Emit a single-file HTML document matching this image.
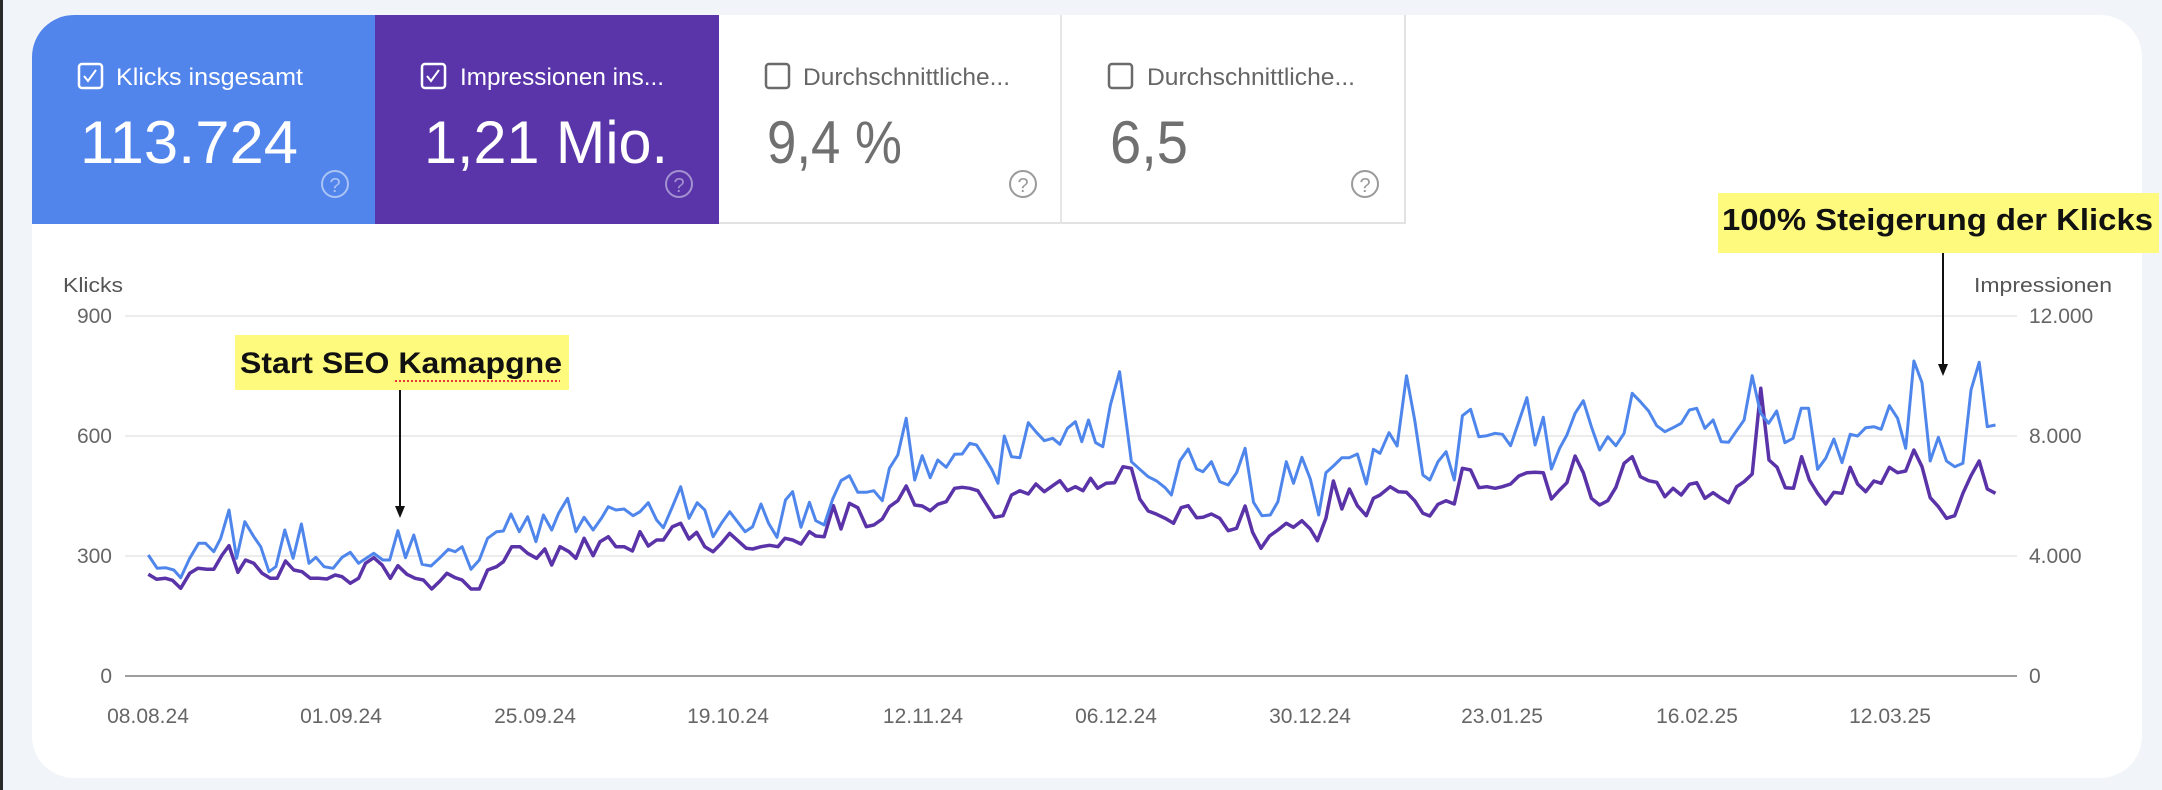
<!DOCTYPE html>
<html><head><meta charset="utf-8"><style>
html,body{margin:0;padding:0;background:#f1f4f9;}
svg{display:block;}
text{font-family:"Liberation Sans",sans-serif;}
</style></head><body>
<svg id="s" width="2162" height="790" viewBox="0 0 2162 790" xmlns="http://www.w3.org/2000/svg">
<rect x="0" y="0" width="2162" height="790" fill="#f1f4f9"/>
<rect x="0" y="0" width="3" height="790" fill="#2a2a2a"/>
<defs><clipPath id="card"><rect x="32" y="15" width="2110" height="763" rx="42"/></clipPath></defs>
<rect x="32" y="15" width="2110" height="763" rx="42" fill="#fff"/>
<g clip-path="url(#card)">
<rect x="32" y="15" width="343" height="209" fill="#5285ec"/>
<rect x="375" y="15" width="344" height="209" fill="#5935a9"/>
<rect x="719" y="15" width="342" height="209" fill="#fff"/>
<line x1="719" y1="223" x2="1405" y2="223" stroke="#e2e2e2" stroke-width="2"/>
<line x1="1061" y1="15" x2="1061" y2="224" stroke="#e6e6e6" stroke-width="2"/>
<line x1="1405" y1="15" x2="1405" y2="224" stroke="#e2e2e2" stroke-width="2"/>
</g>
<!-- tile 1 -->
<rect x="79" y="64" width="23" height="24" rx="3" fill="none" stroke="#fff" stroke-width="2.5"/>
<path d="M84 76 l4 5 l8 -11" fill="none" stroke="#fff" stroke-width="2"/>
<text x="116" y="85" font-size="24" fill="#fff" textLength="187" lengthAdjust="spacingAndGlyphs">Klicks insgesamt</text>
<text x="80" y="163" font-size="60" fill="#fff" textLength="218" lengthAdjust="spacingAndGlyphs">113.724</text>
<circle cx="335" cy="184" r="13" fill="none" stroke="#a9c3f5" stroke-width="2"/>
<text x="335" y="192" font-size="20" fill="#a9c3f5" text-anchor="middle">?</text>
<!-- tile 2 -->
<rect x="422" y="64" width="23" height="24" rx="3" fill="none" stroke="#fff" stroke-width="2.5"/>
<path d="M427 76 l4 5 l8 -11" fill="none" stroke="#fff" stroke-width="2"/>
<text x="460" y="85" font-size="24" fill="#fff" textLength="204" lengthAdjust="spacingAndGlyphs">Impressionen ins...</text>
<text x="424" y="163" font-size="60" fill="#fff" textLength="244" lengthAdjust="spacingAndGlyphs">1,21 Mio.</text>
<circle cx="679" cy="184" r="13" fill="none" stroke="#a491d0" stroke-width="2"/>
<text x="679" y="192" font-size="20" fill="#a491d0" text-anchor="middle">?</text>
<!-- tile 3 -->
<rect x="766" y="64" width="23" height="24" rx="3" fill="none" stroke="#6b6b6b" stroke-width="2.5"/>
<text x="803" y="85" font-size="24" fill="#666" textLength="207" lengthAdjust="spacingAndGlyphs">Durchschnittliche...</text>
<text x="767" y="163" font-size="60" fill="#707070" textLength="135" lengthAdjust="spacingAndGlyphs">9,4 %</text>
<circle cx="1023" cy="184" r="13" fill="none" stroke="#9a9a9a" stroke-width="2"/>
<text x="1023" y="192" font-size="20" fill="#9a9a9a" text-anchor="middle">?</text>
<!-- tile 4 -->
<rect x="1109" y="64" width="23" height="24" rx="3" fill="none" stroke="#6b6b6b" stroke-width="2.5"/>
<text x="1147" y="85" font-size="24" fill="#666" textLength="208" lengthAdjust="spacingAndGlyphs">Durchschnittliche...</text>
<text x="1110" y="163" font-size="60" fill="#707070" textLength="78" lengthAdjust="spacingAndGlyphs">6,5</text>
<circle cx="1365" cy="184" r="13" fill="none" stroke="#9a9a9a" stroke-width="2"/>
<text x="1365" y="192" font-size="20" fill="#9a9a9a" text-anchor="middle">?</text>

<!-- axes -->
<text x="63" y="292" font-size="20" fill="#555" textLength="60" lengthAdjust="spacingAndGlyphs">Klicks</text>
<text x="1974" y="292" font-size="20" fill="#555" textLength="138" lengthAdjust="spacingAndGlyphs">Impressionen</text>
<g stroke="#ececec" stroke-width="2">
<line x1="125" y1="316" x2="2017" y2="316"/>
<line x1="125" y1="436" x2="2017" y2="436"/>
<line x1="125" y1="556" x2="2017" y2="556"/>
</g>
<line x1="125" y1="676" x2="2017" y2="676" stroke="#9e9e9e" stroke-width="2"/>
<g font-size="21" fill="#666" text-anchor="end">
<text x="112" y="323">900</text><text x="112" y="443">600</text><text x="112" y="563">300</text><text x="112" y="683">0</text>
</g>
<g font-size="21" fill="#666">
<text x="2029" y="323">12.000</text><text x="2029" y="443">8.000</text><text x="2029" y="563">4.000</text><text x="2029" y="683">0</text>
</g>
<g font-size="21" fill="#666" text-anchor="middle">
<text x="148" y="723">08.08.24</text><text x="341" y="723">01.09.24</text><text x="535" y="723">25.09.24</text>
<text x="728" y="723">19.10.24</text><text x="923" y="723">12.11.24</text><text x="1116" y="723">06.12.24</text>
<text x="1310" y="723">30.12.24</text><text x="1502" y="723">23.01.25</text><text x="1697" y="723">16.02.25</text>
<text x="1890" y="723">12.03.25</text>
</g>
<polyline id="pur" fill="none" stroke="#5a33a8" stroke-width="3.5" stroke-linejoin="round"/>
<polyline id="blu" fill="none" stroke="#4f86ec" stroke-width="3" stroke-linejoin="round"/>

<!-- annotations -->
<rect x="235" y="335" width="334" height="55" fill="#fdfa7d"/>
<text x="240" y="373" font-size="30" font-weight="bold" fill="#111" textLength="322" lengthAdjust="spacingAndGlyphs">Start SEO Kamapgne</text>
<line x1="395" y1="381" x2="560" y2="381" stroke="#e53935" stroke-width="2" stroke-dasharray="2,2"/>
<line x1="400" y1="390" x2="400" y2="508" stroke="#111" stroke-width="2"/>
<path d="M395 506 L405 506 L400 518 Z" fill="#111"/>
<rect x="1718" y="193" width="441" height="60" fill="#fdfa7d"/>
<text x="1722" y="230" font-size="31" font-weight="bold" fill="#111" textLength="431" lengthAdjust="spacingAndGlyphs">100% Steigerung der Klicks</text>
<line x1="1943" y1="253" x2="1943" y2="365" stroke="#111" stroke-width="2"/>
<path d="M1938 364 L1948 364 L1943 376 Z" fill="#111"/>
</svg>
<script>
function seg(pts, ox, sx, oy){var r=[];for(var i=0;i<pts.length;i+=2){r.push([ox+pts[i]/sx, oy+pts[i+1]/3]);}return r;}
var b3=[215,480,228,520,240,518,252,525,262,548,275,490,288,445,298,445,310,470,320,430,332,345,343,490,355,380,368,425,378,455,390,530,400,515,413,405,425,490,437,387,448,505,458,487,470,515,483,520,496,487,508,472,520,505,542,475,555,495,565,495,577,407,588,488,600,420,612,508,625,513,637,490,650,463,660,470,670,455,683,523,695,495,707,430,720,410,730,408,741,357,753,410,765,365,777,440,788,360,800,405,810,355,823,310,835,410,847,367,860,405,872,370,882,335,893,345,905,342,918,362,928,350,940,323,952,375,962,398,975,335,987,275,999,370,1011,323,1022,345,1034,425,1046,385,1058,350];
var p3=[215,538,227,553,240,550,250,556,262,580,275,535,287,520,300,523,310,523,322,480,332,452,345,532,356,495,368,505,380,535,392,550,402,550,414,498,426,525,438,530,450,550,462,550,474,552,486,540,496,545,508,565,520,550,530,505,542,488,554,510,566,550,577,512,590,538,602,550,614,555,626,582,638,558,648,535,660,548,670,555,683,582,695,582,707,525,720,515,730,500,742,455,754,455,765,475,778,490,790,462,800,510,812,455,825,470,835,490,847,430,860,482,870,440,882,425,893,455,905,455,917,468,928,410,940,453,952,435,962,435,975,395,987,385,999,432,1010,412,1022,455,1034,470,1046,445,1058,415];
var b5=[12,605,30,590,50,522,68,580,88,622,108,510,125,485,145,592,165,517,180,572,200,585,220,508,240,452,260,437,280,487,300,487,318,482,338,512,355,415,375,375,395,265,415,450,433,377,452,443,470,390,490,412,510,373,528,372,546,340,562,345,580,380,598,418,613,460,628,318,645,380,665,383,685,278,705,308,723,332,743,325,760,343,778,295,797,275,812,335,828,270,845,338,862,350,880,225,902,125,930,395,950,418,970,440,990,453,1010,473,1025,495,1045,393,1065,357,1085,417,1100,425,1120,395,1140,455,1160,465,1180,428,1200,355,1220,517,1240,557,1260,555,1278,515,1298,395,1315,460,1335,382,1355,447,1375,555,1392,428,1410,408,1430,383,1448,383,1467,372,1488,462,1505,358];
var p5=[15,655,30,657,50,650,70,646,90,650,107,625,125,630,145,642,165,605,180,618,200,620,222,527,240,597,260,520,280,533,300,590,318,585,338,567,355,530,375,512,395,468,415,525,433,528,452,542,470,523,490,515,510,475,528,472,546,475,565,482,585,522,605,562,625,557,645,495,665,482,685,492,703,462,723,485,743,467,760,452,778,482,797,470,815,482,833,445,850,475,870,460,890,458,910,410,930,415,950,507,970,543,990,553,1010,565,1030,580,1048,533,1065,527,1085,563,1100,562,1120,552,1140,565,1160,602,1180,595,1200,528,1218,607,1238,655,1258,618,1278,600,1298,580,1315,592,1335,572,1355,597,1372,632,1392,565,1410,453,1430,537,1448,477,1467,527,1488,557,1505,505];
var b6=[0,370,22,308,42,348,65,137,85,270,105,435,122,450,142,395,162,365,182,450,202,257,222,238,242,320,262,317,282,310,300,313,320,347,340,275,360,203,380,345,400,262,420,417,440,355,458,315,478,250,498,212,518,290,538,360,558,320,578,347,598,310,618,190,638,215,658,243,678,287,698,305,718,293,738,280,758,240,776,235,796,295,816,270,836,335,854,337,872,305,892,270,912,137,932,248,952,280,972,243,992,338,1012,325,1032,235,1050,235,1072,418,1092,385,1112,327,1132,398,1152,313,1170,318,1190,293,1210,290,1228,298,1248,227,1268,265,1288,355,1308,93,1328,158,1348,393,1368,322,1388,393,1408,410,1428,400,1448,180,1468,97,1488,290,1508,285];
var p6=[0,495,25,470,45,485,65,487,85,512,105,550,122,558,142,523,162,512,182,522,202,415,222,420,242,473,262,470,282,475,300,470,320,462,340,438,360,428,380,427,400,428,420,507,440,480,458,458,478,378,498,428,518,505,538,525,558,512,578,472,598,400,618,380,638,440,658,452,678,457,698,500,718,475,738,495,758,463,776,458,796,505,816,488,836,505,854,518,874,470,892,455,912,432,933,175,953,390,973,412,993,473,1013,475,1033,380,1052,450,1072,490,1092,522,1112,487,1132,490,1152,412,1170,462,1190,485,1210,453,1228,460,1248,412,1268,428,1288,423,1308,360,1328,410,1348,503,1368,530,1388,565,1408,557,1428,490,1448,437,1468,393,1488,477,1508,490];
function build(a,b,c){var all=seg(a,0,1.45,395).concat(seg(b,740,2.376,330)).concat(seg(c,1380,2.45,330));
return all.map(function(p){return p[0].toFixed(1)+","+p[1].toFixed(1);}).join(" ");}
document.getElementById("blu").setAttribute("points",build(b3,b5,b6));
document.getElementById("pur").setAttribute("points",build(p3,p5,p6));
</script>
</body></html>
